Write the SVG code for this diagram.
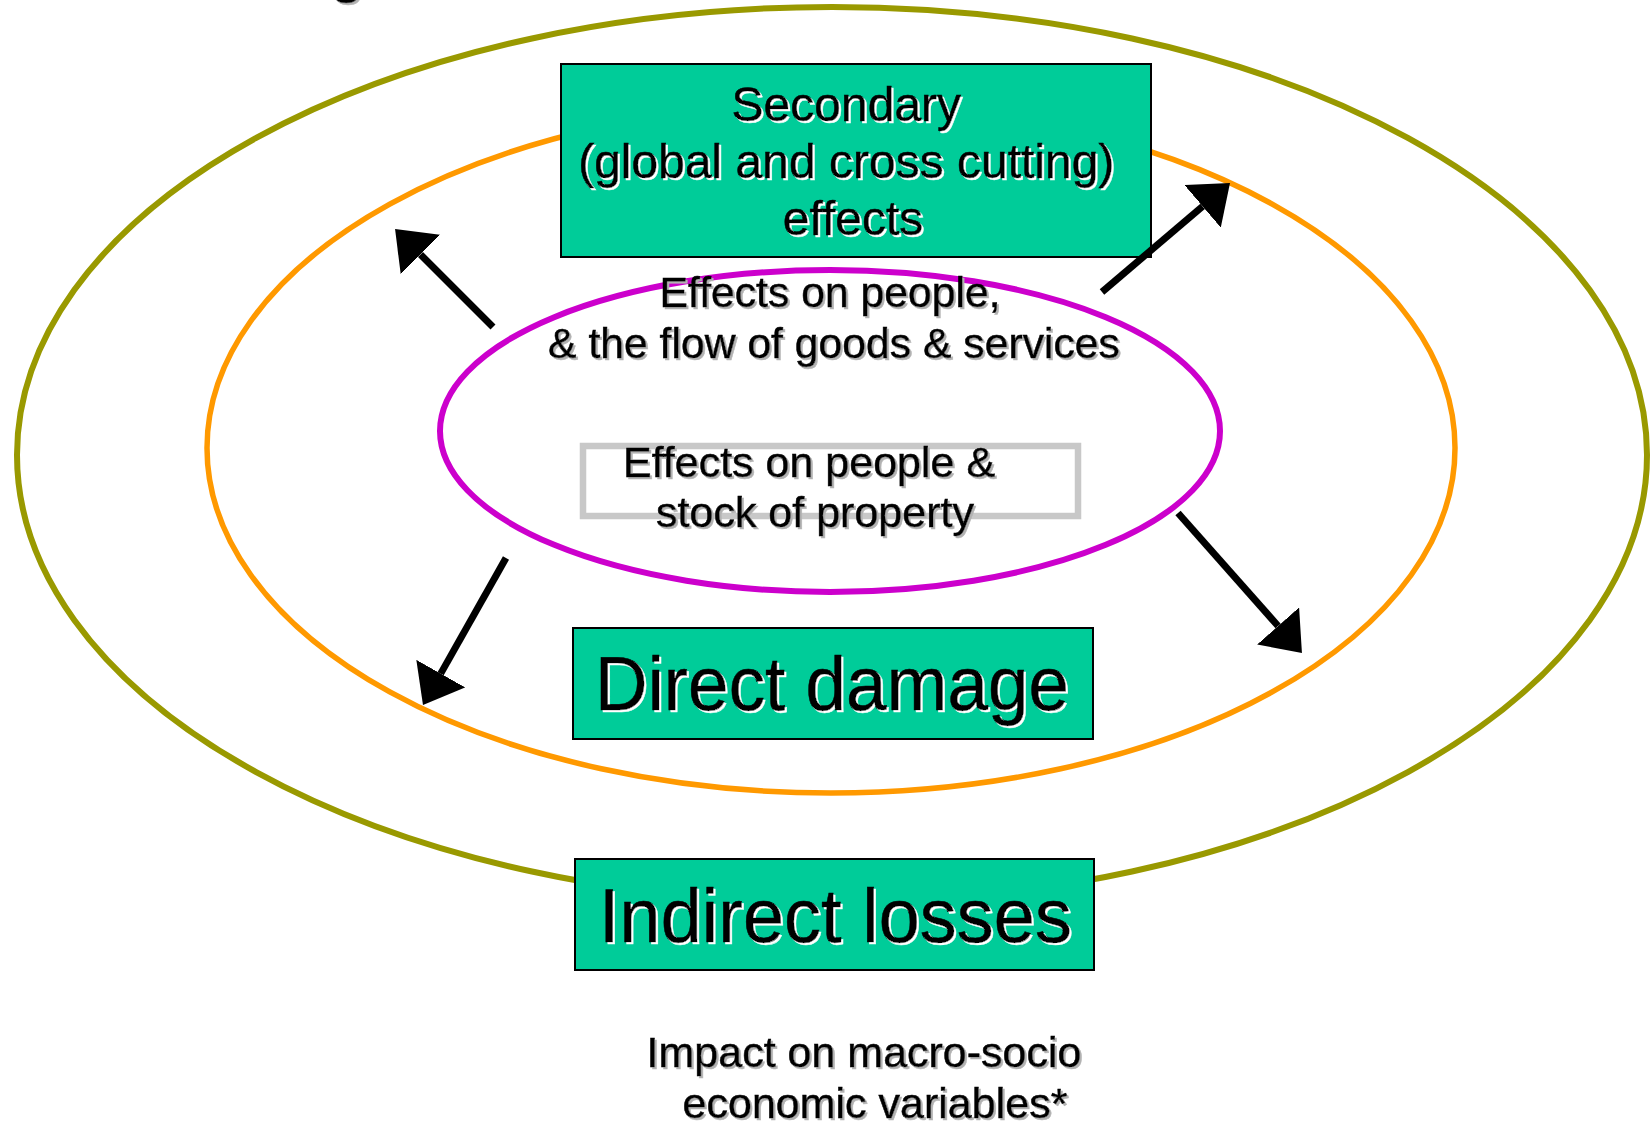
<svg xmlns="http://www.w3.org/2000/svg" width="1652" height="1124" viewBox="0 0 1652 1124">
  <defs>
    <style>
      .ring { fill: none; }
      .box { fill: #00CC99; stroke: #000000; stroke-width: 2; }
      .t { font-family: "Liberation Sans", Arial, sans-serif; fill: #000000; stroke: #000000; stroke-width: 0.5; }
      .onGreen { filter: url(#shWhite); }
      .onWhite { filter: url(#shGray); }
      .conn { stroke: #000000; stroke-width: 7; fill: none; marker-end: url(#head); }
    </style>
    <filter id="shWhite" x="-5%" y="-20%" width="110%" height="140%">
      <feDropShadow dx="2" dy="2" stdDeviation="0" flood-color="#FFFFFF" flood-opacity="1"/>
    </filter>
    <filter id="shGray" x="-5%" y="-20%" width="110%" height="140%">
      <feDropShadow dx="2" dy="2" stdDeviation="0" flood-color="#B2B2B2" flood-opacity="1"/>
    </filter>
    <marker id="head" markerUnits="userSpaceOnUse" viewBox="0 0 36 56" refX="0" refY="28" markerWidth="36" markerHeight="56" orient="auto">
      <path d="M0,0 L36,28 L0,56 Z" fill="#000000"/>
    </marker>
  </defs>

  <rect x="0" y="0" width="1652" height="1124" fill="#FFFFFF"/>

  <text class="t onWhite" x="330" y="-9" font-size="60">g</text>

  <g id="outer-ring">
    <ellipse class="ring" cx="832" cy="455" rx="815" ry="448" stroke="#999900" stroke-width="6"/>
  </g>
  <g id="middle-ring">
    <ellipse class="ring" cx="831" cy="448" rx="624" ry="345" stroke="#FF9900" stroke-width="5.5"/>
  </g>
  <g id="inner-ring">
    <ellipse class="ring" cx="830" cy="431" rx="390" ry="161" stroke="#CC00CC" stroke-width="6"/>
  </g>

  <g id="secondary">
    <rect class="box" x="561" y="64" width="590" height="193"/>
    <text class="t onGreen" font-size="48" text-anchor="middle">
      <tspan x="853" y="121">Secondary</tspan>
      <tspan x="853" y="178">(global and cross cutting)</tspan>
      <tspan x="853" y="235">effects</tspan>
    </text>
  </g>

  <g id="flow-effects">
    <text class="t onWhite" font-size="42.7" text-anchor="middle">
      <tspan x="836" y="307">Effects on people,</tspan>
      <tspan x="834" y="358">&amp; the flow of goods &amp; services</tspan>
    </text>
  </g>

  <g id="stock-effects">
    <rect x="583" y="446" width="495" height="70" fill="none" stroke="#C8C8C8" stroke-width="6.5"/>
    <text class="t onWhite" font-size="43" text-anchor="middle">
      <tspan x="815" y="477">Effects on people &amp;</tspan>
      <tspan x="815" y="527">stock of property</tspan>
    </text>
  </g>

  <g id="direct-damage">
    <rect class="box" x="573" y="628" width="520" height="111"/>
    <text class="t onGreen" x="595" y="710" font-size="76" textLength="474" lengthAdjust="spacingAndGlyphs">Direct damage</text>
  </g>

  <g id="indirect-losses">
    <rect class="box" x="575" y="859" width="519" height="111"/>
    <text class="t onGreen" x="599" y="942" font-size="76" textLength="473" lengthAdjust="spacingAndGlyphs">Indirect losses</text>
  </g>

  <g id="macro-impact">
    <text class="t onWhite" font-size="43" text-anchor="middle">
      <tspan x="870" y="1067">Impact on macro-socio</tspan>
      <tspan x="875" y="1118">economic variables*</tspan>
    </text>
  </g>

  <g id="connectors">
    <line class="conn" x1="493" y1="327" x2="420.5" y2="254.5"/>
    <line class="conn" x1="1102" y1="292" x2="1202.6" y2="206.3"/>
    <line class="conn" x1="1178" y1="513" x2="1278.1" y2="626"/>
    <line class="conn" x1="506" y1="558" x2="440.7" y2="673.6"/>
  </g>
</svg>
